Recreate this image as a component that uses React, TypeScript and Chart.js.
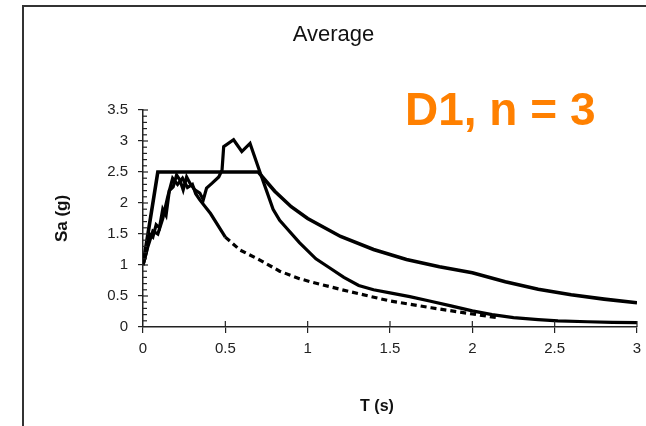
import React, { useEffect, useRef } from "react";
import { Chart, registerables } from "chart.js";

Chart.register(...registerables);

// Design spectrum (thick solid)
const designT = [0, 0.09, 0.7, 0.8, 0.9, 1.0, 1.2, 1.4, 1.6, 1.8, 2.0, 2.2, 2.4, 2.6, 2.8, 3.0];
const designSa = [1.0, 2.5, 2.5, 2.19, 1.94, 1.75, 1.46, 1.25, 1.09, 0.97, 0.875, 0.73, 0.61, 0.52, 0.45, 0.39];

// Average spectrum (jagged solid)
const avgT = [0, 0.02, 0.04, 0.06, 0.08, 0.1, 0.12, 0.14, 0.16, 0.183, 0.204, 0.224, 0.244, 0.265, 0.285, 0.315, 0.345, 0.366, 0.386, 0.42, 0.46, 0.48, 0.49, 0.55, 0.6, 0.65, 0.71, 0.75, 0.79, 0.83, 0.87, 0.95, 1.05, 1.13, 1.22, 1.31, 1.4, 1.5, 1.62, 1.74, 1.87, 2.0, 2.12, 2.25, 2.4, 2.52, 2.7, 2.85, 3.0];
const avgSa = [1.0, 1.2, 1.5, 1.45, 1.65, 1.6, 1.9, 1.8, 2.2, 2.26, 2.45, 2.37, 2.21, 2.42, 2.32, 2.21, 2.16, 2.05, 2.24, 2.32, 2.42, 2.53, 2.91, 3.02, 2.83, 2.96, 2.5, 2.2, 1.9, 1.72, 1.6, 1.36, 1.1, 0.96, 0.8, 0.67, 0.6, 0.55, 0.49, 0.42, 0.34, 0.26, 0.2, 0.15, 0.12, 0.1, 0.085, 0.075, 0.07];

// Second spectrum (dashed after ~0.5 s)
const dashT = [0, 0.03, 0.06, 0.09, 0.12, 0.15, 0.18, 0.21, 0.24, 0.27, 0.3, 0.32, 0.345, 0.41, 0.5, 0.59, 0.71, 0.83, 0.95, 1.03, 1.24, 1.5, 1.75, 2.0, 2.15];
const dashSa = [1.0, 1.3, 1.55, 1.5, 1.75, 2.1, 2.4, 2.3, 2.4, 2.25, 2.3, 2.15, 2.05, 1.83, 1.45, 1.24, 1.08, 0.9, 0.78, 0.72, 0.58, 0.42, 0.31, 0.21, 0.15];

const xTickStep = 0.5;
const yTickStep = 0.5;
const yMinorStep = 0.1;

const FONT = "'Liberation Sans', Arial, Helvetica, sans-serif";

const toPts = (t: number[], s: number[]) => t.map((x, i) => ({ x, y: s[i] }));
const fmt = (v: any) => String(Number(Number(v).toFixed(2)));

const decoPlugin = {
  id: "deco",
  afterDraw(chart: any) {
    const { ctx, chartArea, scales } = chart;
    const xs = scales.x;
    const ys = scales.y;
    ctx.save();
    ctx.strokeStyle = "#222";
    ctx.lineWidth = 1.2;
    const n = Math.round((ys.max - ys.min) / yMinorStep);
    const per = Math.round(yTickStep / yMinorStep);
    for (let i = 1; i <= n; i++) {
      const py = ys.getPixelForValue(ys.min + i * yMinorStep);
      const major = i % per === 0;
      ctx.beginPath();
      ctx.moveTo(chartArea.left, py);
      ctx.lineTo(chartArea.left + (major ? 5 : 4), py);
      ctx.stroke();
    }
    const m = Math.round((xs.max - xs.min) / xTickStep);
    for (let i = 1; i <= m; i++) {
      const px = xs.getPixelForValue(xs.min + i * xTickStep);
      ctx.beginPath();
      ctx.moveTo(px, chartArea.bottom);
      ctx.lineTo(px, chartArea.bottom - 6);
      ctx.stroke();
    }
    ctx.fillStyle = "#111";
    ctx.font = `bold 16px ${FONT}`;
    ctx.textAlign = "center";
    ctx.textBaseline = "middle";
    ctx.fillText("T (s)", 377, 407);
    ctx.restore();
  },
};

export default function App() {
  const ref = useRef<HTMLCanvasElement>(null);

  useEffect(() => {
    if (!ref.current) return;
    const chart = new Chart(ref.current, {
      type: "line",
      data: {
        datasets: [
          {
            label: "Design",
            data: toPts(designT, designSa),
            borderColor: "#000",
            borderWidth: 3.6,
            pointRadius: 0,
            tension: 0,
          },
          {
            label: "Average",
            data: toPts(avgT, avgSa),
            borderColor: "#000",
            borderWidth: 3.2,
            pointRadius: 0,
            tension: 0,
          },
          {
            label: "Record",
            data: toPts(dashT, dashSa),
            borderColor: "#000",
            borderWidth: 3.2,
            pointRadius: 0,
            tension: 0,
            segment: {
              borderDash: (c: any) => (c.p0.parsed.x >= 0.5 ? [6, 4] : undefined),
            },
          },
        ],
      },
      options: {
        animation: false,
        responsive: false,
        layout: { padding: { left: 30, right: 9, top: 0, bottom: 0 } },
        plugins: {
          legend: { display: false },
          tooltip: { enabled: false },
          title: {
            display: true,
            text: "Average",
            color: "#111",
            font: { family: FONT, size: 22, weight: "normal" },
            padding: { top: 22, bottom: 61.6 },
          },
        },
        scales: {
          x: {
            type: "linear",
            min: 0,
            max: 3,
            ticks: {
              stepSize: xTickStep,
              color: "#222",
              font: { family: FONT, size: 15 },
              padding: 7,
              maxRotation: 0,
              callback: fmt,
            },
            grid: { drawOnChartArea: false, drawTicks: true, tickLength: 6, color: "#222", lineWidth: 1.2 },
            border: { color: "#222", width: 1.5 },
            afterFit: (s: any) => {
              s.height = 99;
              s.paddingRight = 0;
            },
          },
          y: {
            type: "linear",
            min: 0,
            max: 3.5,
            ticks: {
              stepSize: yTickStep,
              color: "#222",
              font: { family: FONT, size: 15 },
              padding: 10,
              callback: fmt,
            },
            grid: { drawOnChartArea: false, drawTicks: true, tickLength: 5, color: "#222", lineWidth: 1.2 },
            border: { color: "#222", width: 1.5 },
            title: {
              display: true,
              text: "Sa (g)",
              color: "#111",
              font: { family: FONT, size: 17, weight: "bold" },
              padding: { top: 22, bottom: 0 },
            },
            afterFit: (s: any) => {
              s.width = 113;
            },
          },
        },
      },
      plugins: [decoPlugin],
    });
    return () => chart.destroy();
  }, []);

  return (
    <div style={{ position: "fixed", left: 0, top: 0, width: 646, height: 426, background: "#fff", overflow: "hidden" }}>
      <div
        style={{
          position: "absolute",
          left: 22,
          top: 5,
          width: 700,
          height: 500,
          borderLeft: "2px solid #333",
          borderTop: "2px solid #333",
        }}
      />
      <canvas ref={ref} width={646} height={426} style={{ position: "absolute", left: 0, top: 0 }} />
      <div
        style={{
          position: "absolute",
          left: 405,
          top: 86,
          fontFamily: FONT,
          fontWeight: "bold",
          fontSize: 46,
          lineHeight: "46px",
          color: "#FF8000",
          whiteSpace: "nowrap",
        }}
      >
        D1, n = 3
      </div>
    </div>
  );
}
